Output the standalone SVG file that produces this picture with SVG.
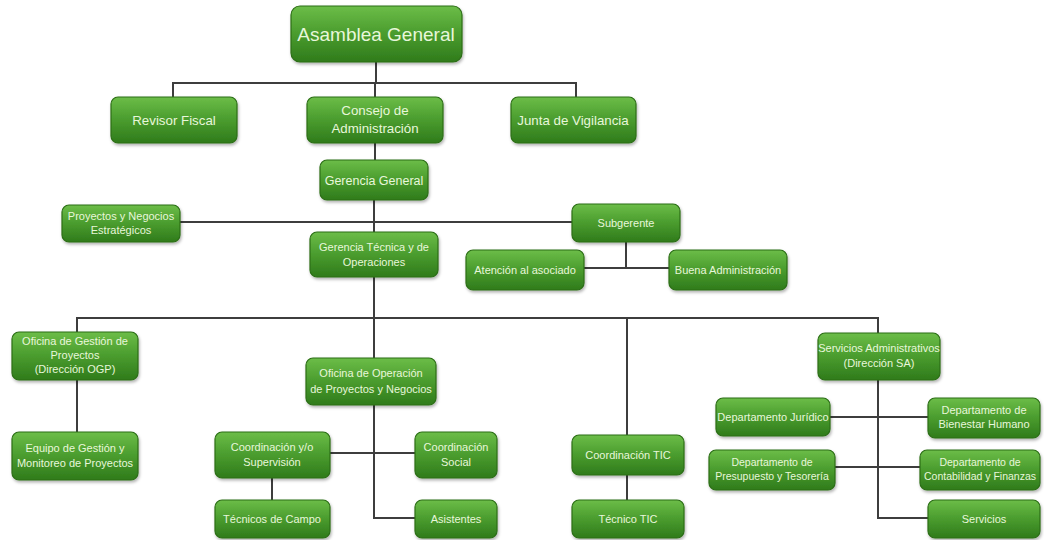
<svg xmlns="http://www.w3.org/2000/svg" width="1044" height="540" viewBox="0 0 1044 540">
<defs>
<linearGradient id="g" x1="0" y1="0" x2="0" y2="1">
<stop offset="0" stop-color="#6cbd48"/>
<stop offset="0.45" stop-color="#4d9f30"/>
<stop offset="1" stop-color="#2f7b1b"/>
</linearGradient>
<filter id="sh" x="-10%" y="-10%" width="125%" height="140%">
<feDropShadow dx="1" dy="2" stdDeviation="1.5" flood-color="#000" flood-opacity="0.3"/>
</filter>
<style>
.b{fill:url(#g);stroke:#2c6e17;stroke-width:1.2;filter:url(#sh)}
.t{font-family:"Liberation Sans",Arial,sans-serif;fill:#e8f7da;text-anchor:middle;font-size:11px}
.s{font-size:10.5px}
.m{font-size:13.3px}
.c{fill:none;stroke:#3d3d3d;stroke-width:2}
</style>
</defs>
<rect width="1044" height="540" fill="#ffffff"/>
<g id="connectors">
<path class="c" d="M376 62V83M173 97V83H576V97M375 83V97"/>
<path class="c" d="M375 143V160M374 200V232M180 222H572"/>
<path class="c" d="M626 242V268M584 268H669"/>
<path class="c" d="M374 277V358M77 332V318H878V333M627 318V435"/>
<path class="c" d="M77 380V432"/>
<path class="c" d="M374 405V518H415M330 453H415M272 478V500"/>
<path class="c" d="M627 475V500"/>
<path class="c" d="M878 380V518H928M830 417H928M835 467H920"/>
</g>
<g id="asamblea"><rect class="b" x="291" y="6" width="171" height="56" rx="9"/><text class="t" x="376" y="41" font-size="19" style="font-size:19px">Asamblea General</text></g>
<g id="revisor"><rect class="b" x="111" y="97" width="126" height="46" rx="7"/><text class="t m" x="174" y="125">Revisor Fiscal</text></g>
<g id="consejo"><rect class="b" x="307" y="97" width="136" height="46" rx="7"/><text class="t m" x="375" y="115">Consejo de</text><text class="t m" x="375" y="133">Administración</text></g>
<g id="junta"><rect class="b" x="511" y="97" width="125" height="46" rx="7"/><text class="t m" x="573" y="125">Junta de Vigilancia</text></g>
<g id="gerencia"><rect class="b" x="320" y="160" width="108" height="40" rx="7"/><text class="t" x="374" y="185" style="font-size:12.5px">Gerencia General</text></g>
<g id="proyectos"><rect class="b" x="62" y="205" width="118" height="37" rx="7"/><text class="t" x="121" y="220">Proyectos y Negocios</text><text class="t" x="121" y="234">Estratégicos</text></g>
<g id="subgerente"><rect class="b" x="572" y="204" width="108" height="38" rx="7"/><text class="t" x="626" y="227">Subgerente</text></g>
<g id="gerencia-tecnica"><rect class="b" x="310" y="232" width="128" height="45" rx="7"/><text class="t" x="374" y="251">Gerencia Técnica y de</text><text class="t" x="374" y="266">Operaciones</text></g>
<g id="atencion"><rect class="b" x="466" y="250" width="118" height="40" rx="7"/><text class="t" x="525" y="274">Atención al asociado</text></g>
<g id="buena"><rect class="b" x="669" y="250" width="118" height="40" rx="7"/><text class="t" x="728" y="274">Buena Administración</text></g>
<g id="ogp"><rect class="b" x="12" y="332" width="126" height="48" rx="7"/><text class="t" x="75" y="345">Oficina de Gestión de</text><text class="t" x="75" y="359">Proyectos</text><text class="t" x="75" y="373">(Dirección OGP)</text></g>
<g id="equipo"><rect class="b" x="12" y="432" width="126" height="48" rx="7"/><text class="t" x="75" y="452">Equipo de Gestión y</text><text class="t" x="75" y="467">Monitoreo de Proyectos</text></g>
<g id="operacion"><rect class="b" x="306" y="358" width="130" height="47" rx="7"/><text class="t" x="371" y="377">Oficina de Operación</text><text class="t" x="371" y="393">de Proyectos y Negocios</text></g>
<g id="coord-sup"><rect class="b" x="215" y="432" width="115" height="46" rx="7"/><text class="t" x="272" y="451">Coordinación y/o</text><text class="t" x="272" y="466">Supervisión</text></g>
<g id="coord-social"><rect class="b" x="415" y="432" width="82" height="46" rx="7"/><text class="t" x="456" y="451">Coordinación</text><text class="t" x="456" y="466">Social</text></g>
<g id="tecnicos"><rect class="b" x="215" y="500" width="115" height="38" rx="7"/><text class="t" x="272" y="523">Técnicos de Campo</text></g>
<g id="asistentes"><rect class="b" x="415" y="500" width="82" height="38" rx="7"/><text class="t" x="456" y="523">Asistentes</text></g>
<g id="coord-tic"><rect class="b" x="572" y="435" width="112" height="40" rx="7"/><text class="t" x="628" y="459">Coordinación TIC</text></g>
<g id="tecnico-tic"><rect class="b" x="572" y="500" width="112" height="38" rx="7"/><text class="t" x="628" y="523">Técnico TIC</text></g>
<g id="sa"><rect class="b" x="818" y="333" width="122" height="47" rx="7"/><text class="t" x="879" y="352">Servicios Administrativos</text><text class="t" x="879" y="367">(Dirección SA)</text></g>
<g id="juridico"><rect class="b" x="716" y="398" width="114" height="38" rx="7"/><text class="t" x="773" y="421">Departamento Jurídico</text></g>
<g id="bienestar"><rect class="b" x="928" y="398" width="112" height="40" rx="7"/><text class="t" x="984" y="414">Departamento de</text><text class="t" x="984" y="428">Bienestar Humano</text></g>
<g id="presupuesto"><rect class="b" x="709" y="450" width="126" height="40" rx="7"/><text class="t s" x="772" y="466">Departamento de</text><text class="t s" x="772" y="480">Presupuesto y Tesorería</text></g>
<g id="contabilidad"><rect class="b" x="920" y="450" width="120" height="40" rx="7"/><text class="t s" x="980" y="466">Departamento de</text><text class="t s" x="980" y="480">Contabilidad y Finanzas</text></g>
<g id="servicios"><rect class="b" x="928" y="500" width="112" height="38" rx="7"/><text class="t" x="984" y="523">Servicios</text></g>
</svg>
